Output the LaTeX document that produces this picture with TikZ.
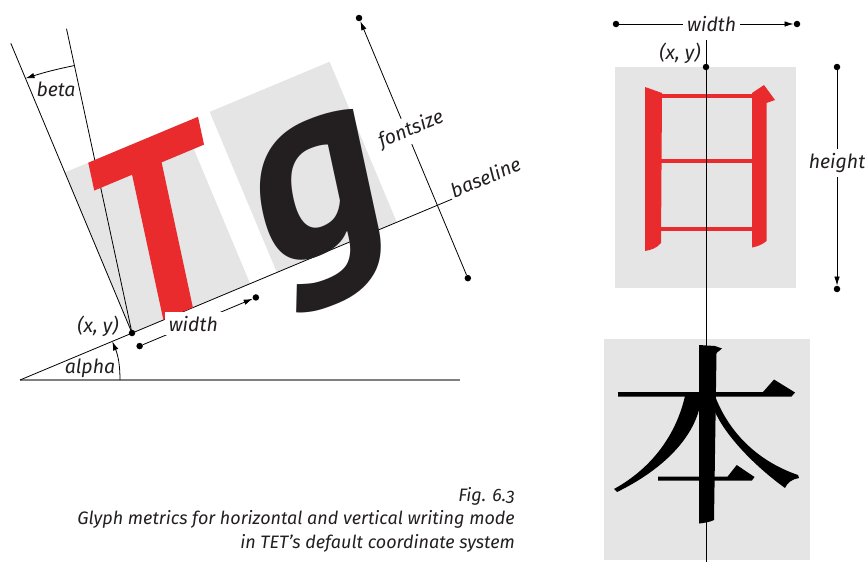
\documentclass[tikz,border=0pt]{standalone}
\usepackage{fontspec}
\setmainfont{Fira Sans}[Numbers=OldStyle]
\newfontfamily\glyphfont{PT Sans}
\usetikzlibrary{arrows.meta,positioning}
\definecolor{boxgray}{RGB}{229,229,230}
\definecolor{glyphred}{RGB}{234,43,46}
\definecolor{glyphblack}{RGB}{35,31,32}

\begin{document}
\begin{tikzpicture}[x=1pt, y=-1pt,
    dot/.style={circle, fill=black, inner sep=0pt, minimum size=6.5pt},
    lbl/.style={font=\fontsize{19.5}{21}\selectfont\itshape, text=glyphblack, inner sep=2pt},
    gap/.style={lbl, fill=white, inner sep=4pt},
    thin/.style={line width=0.8pt},
    arr/.style={thin, -{Latex[length=9pt,width=5.5pt]}},
  ]
  \useasboundingbox (0,0) rectangle (866,562);

  % horizontal writing mode
  \coordinate (O) at (132,333);
  \coordinate (A) at (20,380);
  \coordinate (H) at (460,380);
  \draw[line width=1.2pt, gray] (A) -- (H);

  \begin{scope}[shift={(O)}, rotate=22.7, y=1pt]
    \fill[boxgray] (0,0) rectangle (128,174);
    \fill[boxgray] (157,0) rectangle (287,174);
    \coordinate (bl) at (347,0);
    \coordinate (up) at (0,314);
    \coordinate (slant) at (57,306);
    \coordinate (b1) at (50,269);
    \coordinate (b2) at (0,276);
    \draw[thin] (A) -- (bl);
    \draw[thin] (O) -- (up);
    \draw[thin] (O) -- (slant);

    % glyphs, slanted by beta
    \begin{scope}[xslant=0.186]
      \fill[glyphred] (-7,146) -- (-7,174) -- (112,174) -- (112,146) -- (66,146)
        -- (66,0) -- (34,0) -- (34,146) -- cycle;
      \node[transform shape, anchor=base, inner sep=0pt, text=glyphblack,
            font={\glyphfont\bfseries\fontsize{250}{250}\selectfont}] (g) at (215,0) {g};
    \end{scope}

    % width along the baseline
    \node[dot] (w0) at (2,-15) {};
    \node[dot] (w1) at (128,-15) {};
    \draw[arr] (w0) -- node[gap, sloped, pos=0.46] (wlbl) {width} (w1);

    % fontsize
    \node[dot] (f0) at (331,-79) {};
    \node[dot] (f1) at (331,203) {};
    \draw[arr] (f0) -- (f1);
    \node[gap, rotate=22.7] (flbl) at (336,80) {fontsize};

    \node[lbl, anchor=base west, rotate=22.7, inner sep=0pt] (bllbl) at (349,0) {baseline};
    \draw[arr] (b1) to[bend right=3] (b2);
  \end{scope}

  % alpha
  \coordinate (a1) at (120,380);
  \coordinate (a2) at (112.3,341.4);
  \draw[arr] (a1) to[bend right=11] (a2);
  \node[lbl] (alpha) at (90,368) {alpha};
  \node[lbl] (beta) at (56,89) {beta};
  \node[dot] (xy) at (O) {};
  \node[lbl] (xylbl) at (98,326) {(x, y)};

  % vertical writing mode
  \fill[boxgray] (615,67) rectangle (796,288);
  \fill[boxgray] (604,339) rectangle (810,560);

  % ri
  \fill[glyphred] (645,87) -- (662,93) -- (661,243) .. controls (657,248) and (651,250) .. (645,251) -- cycle;
  \fill[glyphred] (752,93) -- (764,85) -- (775,100) -- (766.5,103) -- (766.5,241)
    .. controls (762,245) and (757,246.5) .. (752,247.5) -- cycle;
  \fill[glyphred] (661,94.3) rectangle (752,98.3);
  \fill[glyphred] (661,159.3) rectangle (752,163.3);
  \fill[glyphred] (661,226.7) rectangle (752,230.7);

  % hon
  \fill[black] (618,392) -- (763,392) -- (774,379.5) -- (795,392.5) -- (791.5,396.5) -- (618,396.5) -- cycle;
  \fill[black] (699,345) -- (715,346) -- (722,348.5) -- (716.5,353) -- (714,520)
    .. controls (710,522) and (704,523) .. (699,523.5) -- cycle;
  \fill[black] (685,396) .. controls (676,435) and (652,468) .. (614,489) -- (617,492)
    .. controls (660,471) and (690,442) .. (699,410) -- (699,396) -- cycle;
  \fill[black] (715,396) .. controls (730,435) and (760,462) .. (798,475) -- (799,478)
    .. controls (792,479) and (787,483) .. (785,488)
    .. controls (760,470) and (728,440) .. (715,412) -- cycle;
  \fill[black] (658,476.7) -- (727.5,476.7) -- (736.7,465) -- (754.5,477) -- (751.7,480.7) -- (658,480.7) -- cycle;

  \coordinate (vtop) at (706,40);
  \coordinate (vbot) at (706,562);
  \draw[thin] (vtop) -- (vbot);
  \node[dot] (xy2) at (706,67) {};
  \node[lbl] (xylbl2) at (680,53) {(x, y)};

  \node[dot] (hw0) at (616,24) {};
  \node[dot] (hw1) at (797,24) {};
  \draw[arr] (hw0) -- node[gap, pos=0.53] (hwlbl) {width} (hw1);

  \node[dot] (h0) at (837,67) {};
  \node[dot] (h1) at (837,289) {};
  \draw[arr] (h0) -- node[gap, pos=0.43] (hlbl) {height} (h1);

  % caption
  \node[lbl, align=right, anchor=north east, font=\fontsize{18}{23.5}\selectfont\itshape]
    (caption) at (517,485) {Fig. 6.3\\Glyph metrics for horizontal and vertical writing mode\\in TET’s default coordinate system};
\end{tikzpicture}
\end{document}
